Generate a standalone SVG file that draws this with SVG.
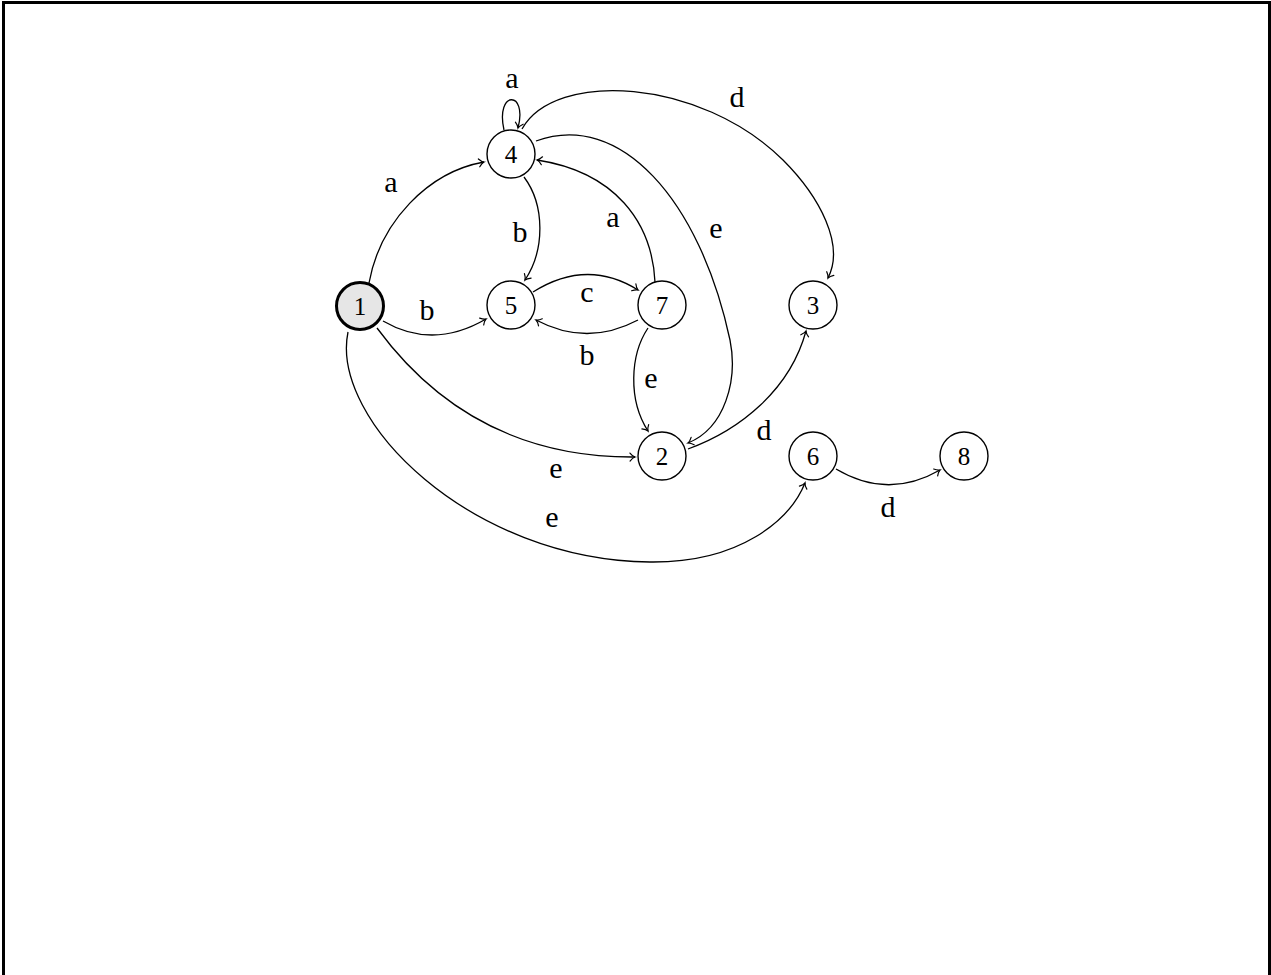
<svg xmlns="http://www.w3.org/2000/svg" width="1271" height="975" viewBox="0 0 1271 975">
<style>
.frame{fill:#fff;stroke:#000;stroke-width:3}
.node circle{fill:#fff;stroke:#000;stroke-width:1.4}
#n1 circle{fill:#e6e6e6;stroke-width:3}
.node text{font-family:"Liberation Serif",serif;font-size:25px;text-anchor:middle;fill:#000}
.edge path{fill:none;stroke:#000;stroke-width:1.3;marker-end:url(#arr)}
.lbl{font-family:"Liberation Serif",serif;font-size:30px;text-anchor:middle;fill:#000}
</style>
<defs>
<marker id="arr" markerUnits="userSpaceOnUse" orient="auto" refX="0" refY="0" viewBox="-7 -6 9 12" markerWidth="9" markerHeight="12" overflow="visible">
<path d="M -5 -4 C -3 -1.5 -1 -0.3 0 0 C -1 0.3 -3 1.5 -5 4" fill="none" stroke="#000" stroke-width="1.2" stroke-linecap="round"/>
</marker>
</defs>
<rect class="frame" x="3.5" y="2.5" width="1266" height="1000"/>
<g id="connectors" class="edge">
<path id="e14" d="M 369 283 C 380 222 428 172 484 162"/>
<path id="e15" d="M 383 321 Q 433 350 486 319"/>
<path id="e57" d="M 533 292 Q 587 258 638 290"/>
<path id="e75" d="M 638 320 Q 587 347 536 320"/>
<path id="e45" d="M 524 177 C 545 205 545 250 525 280"/>
<path id="e74" d="M 655 282 C 652 222 615 172 537 160"/>
<path id="e72" d="M 648 328 C 630 355 628 400 648 431"/>
<path id="e42" d="M 536 141 C 620 110 700 200 730 340 C 738 380 725 428 688 443"/>
<path id="e43" d="M 522 129 C 555 70 700 78 783 160 C 820 197 845 245 828 278"/>
<path id="e12" d="M 377 328 C 430 400 510 458 635 457"/>
<path id="e16" d="M 348 332 C 330 420 470 560 650 562 C 740 563 790 520 805 483"/>
<path id="e23" d="M 688 449 C 740 430 790 390 806 331"/>
<path id="e68" d="M 836 469 Q 888 500 940 470"/>
<path id="e44" d="M 504 130 C 495 90 528 90 518 128"/>
</g>
<g id="labels">
<text class="lbl" x="512" y="88">a</text>
<text class="lbl" x="391" y="192">a</text>
<text class="lbl" x="520" y="242">b</text>
<text class="lbl" x="427" y="320">b</text>
<text class="lbl" x="587" y="302">c</text>
<text class="lbl" x="587" y="365">b</text>
<text class="lbl" x="651" y="388">e</text>
<text class="lbl" x="613" y="227">a</text>
<text class="lbl" x="716" y="238">e</text>
<text class="lbl" x="737" y="107">d</text>
<text class="lbl" x="556" y="478">e</text>
<text class="lbl" x="552" y="527">e</text>
<text class="lbl" x="764" y="440">d</text>
<text class="lbl" x="888" y="517">d</text>
</g>
<g id="n1" class="node"><circle cx="360" cy="306" r="23.5"/><text x="360" y="315">1</text></g>
<g id="n4" class="node"><circle cx="511" cy="154" r="24"/><text x="511" y="163">4</text></g>
<g id="n5" class="node"><circle cx="511" cy="305" r="24"/><text x="511" y="314">5</text></g>
<g id="n7" class="node"><circle cx="662" cy="305" r="24"/><text x="662" y="314">7</text></g>
<g id="n3" class="node"><circle cx="813" cy="305" r="24"/><text x="813" y="314">3</text></g>
<g id="n2" class="node"><circle cx="662" cy="456" r="24"/><text x="662" y="465">2</text></g>
<g id="n6" class="node"><circle cx="813" cy="456" r="24"/><text x="813" y="465">6</text></g>
<g id="n8" class="node"><circle cx="964" cy="456" r="24"/><text x="964" y="465">8</text></g>
</svg>
